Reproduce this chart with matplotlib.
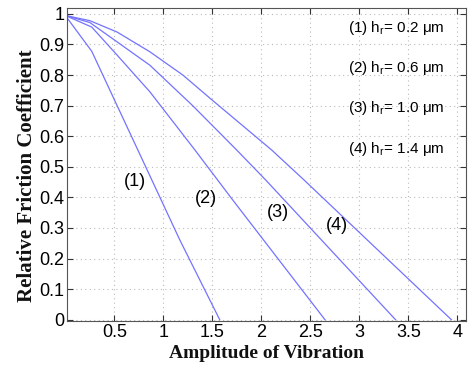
import numpy as np
import matplotlib.pyplot as plt

# curve data (amplitude, relative friction)
x1 = [0.0, 0.27, 0.694, 1.17, 1.576]
y1 = [0.995, 0.878, 0.587, 0.26, 0.0]

x2 = [0.0, 0.27, 0.527, 0.864, 1.323, 1.71, 2.65]
y2 = [0.995, 0.957, 0.866, 0.745, 0.555, 0.391, 0.0]

x3 = [0.0, 0.25, 0.527, 0.864, 1.3, 1.749, 2.045, 3.37]
y3 = [0.995, 0.972, 0.909, 0.832, 0.70, 0.555, 0.457, 0.0]

x4 = [0.0, 0.25, 0.527, 0.864, 1.2, 1.5, 2.106, 2.436, 3.94]
y4 = [0.995, 0.978, 0.941, 0.876, 0.80, 0.718, 0.555, 0.457, 0.0]

curve_labels = ["(1)", "(2)", "(3)", "(4)"]
label_pos = [(0.71, 0.453), (1.44, 0.397), (2.17, 0.352), (2.77, 0.309)]

heights = ["0.2", "0.6", "1.0", "1.4"]
legend_y = [0.953, 0.822, 0.692, 0.558]

xticks = [0.5, 1, 1.5, 2, 2.5, 3, 3.5, 4]
yticks = np.round(np.arange(0, 1.01, 0.1), 1)

line_color = "#7373ff"

fig = plt.figure(figsize=(4.68, 3.68), dpi=100)
ax = fig.add_axes([0.143, 0.127, 0.853, 0.851])

for xs, ys in [(x1, y1), (x2, y2), (x3, y3), (x4, y4)]:
    ax.plot(xs, ys, color=line_color, linewidth=0.9)

for lab, (lx, ly) in zip(curve_labels, label_pos):
    ax.text(lx, ly, lab, ha="center", va="center", fontsize=13,
            family="Liberation Sans")

for i, (h, ly) in enumerate(zip(heights, legend_y)):
    ax.text(3.87, ly, "(%d) h$_\\mathregular{r}$= %s μm" % (i + 1, h),
            ha="right", va="center", fontsize=11, family="Liberation Sans")

ax.set_xlim(0.017, 4.09)
ax.set_ylim(-0.005, 1.019)
ax.set_xticks(xticks)
ax.set_xticklabels(["%g" % t for t in xticks])
ax.set_yticks(yticks)
ax.set_yticklabels(["%g" % t for t in yticks])

ax.grid(True, linestyle=(0, (1, 3)), color="#bbbbbb", linewidth=0.8)
ax.tick_params(direction="in", top=True, right=True, length=4, width=0.8,
               labelsize=13, pad=2, colors="#333333", labelcolor="black")
for lab in ax.get_xticklabels() + ax.get_yticklabels():
    lab.set_family("Liberation Sans")
for sp in ax.spines.values():
    sp.set_color("#555555")
    sp.set_linewidth(0.8)

ax.set_xlabel("Amplitude of Vibration", family="Liberation Serif",
              fontweight="bold", fontsize=14, labelpad=3, color="#111111")
ax.set_ylabel("Relative Friction Coefficient", family="Liberation Serif",
              fontweight="bold", fontsize=15, color="#111111")
ax.yaxis.set_label_coords(-0.075, 0.464)

fig.savefig("out.png", dpi=100)
